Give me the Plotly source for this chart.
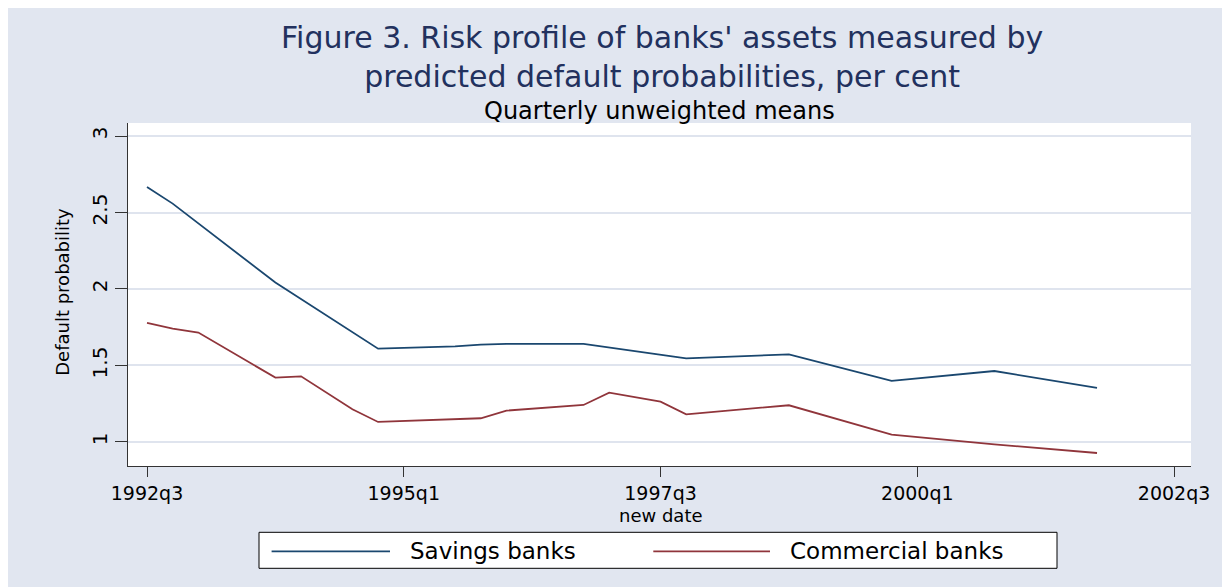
import plotly.graph_objects as go

# ---- data ----
savings_dates = ["1992q3", "1992q4", "1993q4", "1994q4", "1995q3", "1995q4", "1996q1",
                 "1996q4", "1997q4", "1998q4", "1999q4", "2000q4", "2001q4"]
savings_vals = [2.667, 2.558, 2.042, 1.610, 1.625, 1.637, 1.641,
                1.641, 1.547, 1.573, 1.399, 1.464, 1.353]

commercial_dates = ["1992q3", "1992q4", "1993q1", "1993q4", "1994q1", "1994q3", "1994q4",
                    "1995q4", "1996q1", "1996q4", "1997q1", "1997q3", "1997q4", "1998q4",
                    "1999q4", "2000q4", "2001q4"]
commercial_vals = [1.778, 1.741, 1.715, 1.421, 1.429, 1.214, 1.131,
                   1.155, 1.205, 1.242, 1.323, 1.264, 1.181, 1.240,
                   1.048, 0.985, 0.928]

x_tick_labels = ["1992q3", "1995q1", "1997q3", "2000q1", "2002q3"]
y_tick_vals = [1, 1.5, 2, 2.5, 3]


def tq(label):
    year, q = label.split("q")
    return (int(year) - 1960) * 4 + int(q) - 1


BG = "#e1e6f0"
NAVY = "#1a476f"
MAROON = "#90353b"
TITLE_C = "#22315e"
FONT = "DejaVu Sans"

fig = go.Figure()
fig.add_trace(go.Scatter(x=[tq(d) for d in savings_dates], y=savings_vals, mode="lines",
                         name="Savings banks", line=dict(color=NAVY, width=1.8)))
fig.add_trace(go.Scatter(x=[tq(d) for d in commercial_dates], y=commercial_vals, mode="lines",
                         name="Commercial banks", line=dict(color=MAROON, width=1.8)))


# plot area in page pixels: x 128..1191, y 122.7..465.7 (1063 x 343)
def px_x(p):
    return (p - 128) / 1063.0


def px_y(p):
    return (465.7 - p) / 343.0


shapes = [
    # legend box
    dict(type="rect", xref="paper", yref="paper", x0=px_x(259), x1=px_x(1057),
         y0=px_y(568), y1=px_y(532), fillcolor="white", line=dict(color="black", width=1)),
    dict(type="line", xref="paper", yref="paper", x0=px_x(271.6), x1=px_x(390),
         y0=px_y(551), y1=px_y(551), line=dict(color=NAVY, width=1.8)),
    dict(type="line", xref="paper", yref="paper", x0=px_x(653.3), x1=px_x(770),
         y0=px_y(551), y1=px_y(551), line=dict(color=MAROON, width=1.8)),
]

annotations = [
    dict(text="Figure 3. Risk profile of banks' assets measured by<br>"
              "predicted default probabilities, per cent",
         x=px_x(662), y=px_y(57),
         xref="paper", yref="paper", showarrow=False, xanchor="center", yanchor="middle",
         font=dict(family=FONT, size=30, color=TITLE_C)),
    dict(text="Quarterly unweighted means", x=px_x(659), y=px_y(110.5),
         xref="paper", yref="paper", showarrow=False, xanchor="center", yanchor="middle",
         font=dict(family=FONT, size=24, color="black")),
    dict(text="new date", x=px_x(660.5), y=px_y(515),
         xref="paper", yref="paper", showarrow=False, xanchor="center", yanchor="middle",
         font=dict(family=FONT, size=18, color="black")),
    dict(text="Default probability", x=px_x(63), y=px_y(291.5), textangle=-90,
         xref="paper", yref="paper", showarrow=False, xanchor="center", yanchor="middle",
         font=dict(family=FONT, size=18, color="black")),
    dict(text="Savings banks", x=px_x(407.5), y=px_y(551),
         xref="paper", yref="paper", showarrow=False, xanchor="left", yanchor="middle",
         font=dict(family=FONT, size=23, color="black")),
    dict(text="Commercial banks", x=px_x(788.3), y=px_y(551),
         xref="paper", yref="paper", showarrow=False, xanchor="left", yanchor="middle",
         font=dict(family=FONT, size=23, color="black")),
]

# page has an 8px body margin: figure spans x 8..1222, y 8..587
fig.update_layout(
    width=1214, height=579,
    margin=dict(l=120, r=31, t=115, b=121, pad=0),
    paper_bgcolor=BG,
    plot_bgcolor="white",
    showlegend=False,
    shapes=shapes,
    annotations=annotations,
    font=dict(family=FONT, color="black"),
)

fig.update_xaxes(
    range=[129.26, 170.66],
    tickvals=[tq(t) for t in x_tick_labels], ticktext=x_tick_labels,
    ticks="outside", ticklen=10, tickwidth=1.2, tickcolor="#333333",
    showline=True, linecolor="#333333", linewidth=1.2,
    showgrid=False, zeroline=False,
    tickfont=dict(family=FONT, size=19, color="black"),
)
fig.update_yaxes(
    range=[0.843, 3.085],
    tickvals=y_tick_vals, ticktext=["1", "1.5", "2", "2.5", "3"],
    tickangle=-90,
    ticks="outside", ticklen=12, tickwidth=1.2, tickcolor="#333333",
    showline=True, linecolor="#333333", linewidth=1.2,
    showgrid=True, gridcolor="#dfe4ee", gridwidth=2,
    zeroline=False,
    tickfont=dict(family=FONT, size=20, color="black"),
)

fig.write_html("out.html")
